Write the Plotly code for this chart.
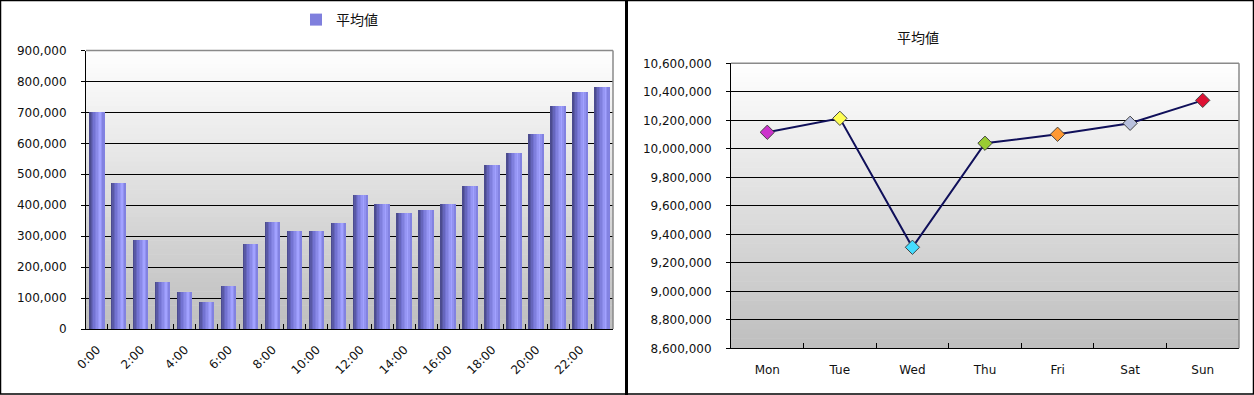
import plotly.graph_objects as go

# ---------------- data ----------------
hours = ["0:00", "1:00", "2:00", "3:00", "4:00", "5:00", "6:00", "7:00",
         "8:00", "9:00", "10:00", "11:00", "12:00", "13:00", "14:00", "15:00",
         "16:00", "17:00", "18:00", "19:00", "20:00", "21:00", "22:00", "23:00"]
hour_labels = ["0:00", "", "2:00", "", "4:00", "", "6:00", "", "8:00", "",
               "10:00", "", "12:00", "", "14:00", "", "16:00", "", "18:00", "",
               "20:00", "", "22:00", ""]
hourly_avg = [702000, 474000, 288000, 153000, 120000, 88000, 142000, 276000,
              346000, 317000, 317000, 343000, 436000, 407000, 375000, 385000,
              407000, 465000, 533000, 569000, 633000, 721000, 766000, 785000]

days = ["Mon", "Tue", "Wed", "Thu", "Fri", "Sat", "Sun"]
daily_avg = [10116000, 10214000, 9309000, 10039000, 10102000, 10179000, 10340000]
day_colors = ["#CC33CC", "#FFFF55", "#44DDFF", "#99CC33", "#FF9933", "#B8C0DD", "#DD1133"]

series_name = "平均値"

# ---------------- helpers (style only) ----------------
W, H = 1254, 395
def px(x):
    return x / W
def py(y):
    return 1 - y / H

def lerp(c1, c2, t):
    return tuple(int(round(a + (b - a) * t)) for a, b in zip(c1, c2))

def grad(stops, t):
    for (t0, c0), (t1, c1) in zip(stops, stops[1:]):
        if t0 <= t <= t1:
            return lerp(c0, c1, (t - t0) / (t1 - t0) if t1 > t0 else 0)
    return stops[-1][1]

FONT = "DejaVu Sans, Liberation Sans, Noto Sans CJK JP"
JFONT = "Noto Sans CJK JP, DejaVu Sans"

fig = go.Figure()

# ---------------- left: bar chart with cylinder-like shading ----------------
bar_stops = [(0.0, (70, 70, 132)), (0.35, (115, 115, 210)), (0.75, (162, 162, 255)), (1.0, (122, 122, 218))]
N = 10
bw = 0.68
sw = bw / N
for i in range(N):
    c = grad(bar_stops, (i + 0.5) / N)
    fig.add_trace(go.Bar(
        x=hours, y=hourly_avg, xaxis="x", yaxis="y",
        width=sw * 1.05, offset=-bw / 2 + i * sw,
        marker=dict(color="rgb(%d,%d,%d)" % c, line=dict(width=0)),
        name=series_name, showlegend=(i == 4), hoverinfo="x+y",
    ))

# ---------------- right: line chart ----------------
fig.add_trace(go.Scatter(
    x=days, y=daily_avg, xaxis="x2", yaxis="y2", mode="lines+markers",
    line=dict(color="#10105A", width=2),
    marker=dict(symbol="diamond", size=11, color=day_colors,
                line=dict(color="#444444", width=1)),
    name=series_name, showlegend=False,
))

# ---------------- axes ----------------
xl0, xl1 = px(86), px(613)
yl0, yl1 = py(329), py(50.5)
xr0, xr1 = px(731), px(1239)
yr0, yr1 = py(348.3), py(63.3)

axis_font = dict(family=FONT, size=12, color="#111111")

fig.update_layout(
    width=W, height=H,
    margin=dict(l=0, r=0, t=0, b=0, pad=0, autoexpand=False),
    paper_bgcolor="white", plot_bgcolor="white",
    barmode="overlay", bargap=0,
    font=dict(family=FONT, size=12, color="#111111"),
    xaxis=dict(domain=[xl0, xl1], anchor="y", type="category",
               tickmode="array", tickvals=hours, ticktext=hour_labels,
               tickangle=-45, tickson="boundaries", ticks="inside", ticklen=5,
               tickcolor="black", showline=True, linecolor="black", linewidth=1,
               showgrid=False, tickfont=axis_font, ticklabelstandoff=8,
               automargin=False, range=[-0.5, 23.5]),
    yaxis=dict(domain=[yl0, yl1], anchor="x", range=[0, 900000], dtick=100000,
               tickformat=",d", ticks="outside", ticklen=4, tickcolor="black",
               showline=True, linecolor="black", linewidth=1,
               showgrid=True, gridcolor="black", gridwidth=1, zeroline=False,
               tickfont=axis_font, ticklabelstandoff=12, automargin=False),
    xaxis2=dict(domain=[xr0, xr1], anchor="y2", type="category",
                tickson="boundaries", ticks="inside", ticklen=5, tickcolor="black",
                showline=True, linecolor="black", linewidth=1, showgrid=False,
                tickfont=axis_font, ticklabelstandoff=10, automargin=False,
                range=[-0.5, 6.5]),
    yaxis2=dict(domain=[yr0, yr1], anchor="x2", range=[8600000, 10600000], dtick=200000,
                tickformat=",d", ticks="outside", ticklen=4, tickcolor="black",
                showline=True, linecolor="black", linewidth=1,
                showgrid=True, gridcolor="black", gridwidth=1, zeroline=False,
                tickfont=axis_font, ticklabelstandoff=12, automargin=False),
    legend=dict(x=px(296), y=py(20), xanchor="left", yanchor="middle",
                orientation="h", bgcolor="rgba(0,0,0,0)",
                font=dict(family=JFONT, size=14, color="#111111"),
                itemwidth=30),
    showlegend=True,
)

# title of right panel
fig.add_annotation(text=series_name, xref="paper", yref="paper",
                   x=px(941), y=py(25), showarrow=False,
                   font=dict(family=JFONT, size=14, color="#111111"))

# ---------------- background gradients and borders ----------------
shapes = []
NB = 60
for xr, yr in (("x", "y"), ("x2", "y2")):
    for k in range(NB):
        t = (k + 0.5) / NB
        c = lerp((255, 255, 255), (190, 190, 190), t)
        shapes.append(dict(type="rect", xref=xr + " domain", yref=yr + " domain",
                           x0=0, x1=1, y0=1 - (k + 1) / NB, y1=1 - k / NB + 0.002,
                           fillcolor="rgb(%d,%d,%d)" % c, line=dict(width=0),
                           layer="below"))
    shapes.append(dict(type="line", xref=xr + " domain", yref=yr + " domain",
                       x0=0, x1=1, y0=1, y1=1, line=dict(color="#8a8a8a", width=1.5),
                       layer="above"))
    shapes.append(dict(type="line", xref=xr + " domain", yref=yr + " domain",
                       x0=1, x1=1, y0=0, y1=1, line=dict(color="#8a8a8a", width=1.5),
                       layer="above"))

# panel borders
shapes.append(dict(type="rect", xref="paper", yref="paper", x0=px(0.5), x1=px(1253.5),
                   y0=py(394), y1=py(0.5), line=dict(color="black", width=1.5),
                   fillcolor="rgba(0,0,0,0)", layer="above"))
shapes.append(dict(type="line", xref="paper", yref="paper", x0=px(626.5), x1=px(626.5),
                   y0=0, y1=1, line=dict(color="black", width=3), layer="above"))
fig.update_layout(shapes=shapes)

fig.write_html(
    "out.html",
    config={"displayModeBar": False},
    post_script="document.documentElement.style.margin='0';"
                "document.body.style.margin='0';document.body.style.padding='0';"
                "document.body.style.overflow='hidden';",
)
